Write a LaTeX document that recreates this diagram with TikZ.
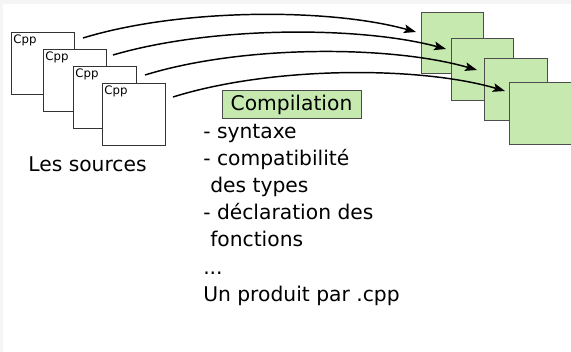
\documentclass[tikz,border=0pt]{standalone}
\usepackage{fontspec}
\setmainfont{DejaVu Sans}
\usetikzlibrary{arrows.meta,calc}
\definecolor{boxgreen}{HTML}{C6E9AF}
\definecolor{edgegray}{HTML}{4D4D4D}
\definecolor{margingray}{HTML}{F5F5F5}
\begin{document}
\begin{tikzpicture}[x=0.75pt,y=-0.75pt,
  srcbox/.style={draw=black!80, line width=0.75pt, fill=white, anchor=north west,
    minimum width=47.25pt, minimum height=46.5pt, inner sep=0pt,
    label={[font=\fontsize{8.8}{10}\selectfont, anchor=north west, inner sep=1.6pt]north west:Cpp}},
  objbox/.style={draw=edgegray, line width=0.75pt, fill=boxgreen, anchor=north west,
    minimum width=46.5pt, minimum height=46.5pt, inner sep=0pt},
  txt/.style={font=\fontsize{15.2}{19.5}\selectfont, inner sep=0pt, anchor=base west},
  flow/.style={line width=1.1pt, -{Stealth[length=9pt,width=6.5pt,inset=1.8pt]}}]
\useasboundingbox (0,0) rectangle (571,352);
\fill[white] (0,0) rectangle (571,352);
\fill[margingray] (0,0) rectangle (571,4);
\fill[margingray] (0,0) rectangle (3,352);
% source pages
\node[srcbox] (c1) at (11,32) {};
\node[srcbox] (c2) at (43,49) {};
\node[srcbox] (c3) at (73,66) {};
\node[srcbox] (c4) at (102,83) {};
% object files
\node[objbox, minimum height=45.75pt] (g1) at (421,12) {};
\node[objbox] (g2) at (451,38) {};
\node[objbox, minimum width=47.25pt] (g3) at (484,58) {};
\node[objbox, minimum width=47.25pt] (g4) at (509,82) {};
% arrows
\coordinate (s1) at ($(c1.north east)+(8,6)$);
\coordinate (s2) at ($(c2.north east)+(6,6)$);
\coordinate (s3) at ($(c3.north east)+(8,9)$);
\coordinate (s4) at ($(c4.north east)+(7,14)$);
\coordinate (e1) at ($(g1.north west)+(-5,20)$);
\coordinate (e2) at ($(g2.north west)+(-5,11)$);
\coordinate (e3) at ($(g3.north west)+(-7,12)$);
\coordinate (e4) at ($(g4.north west)+(-4,9)$);
\draw[flow] (s1) .. controls +(98,-30) and +(-86,-24) .. (e1);
\draw[flow] (s2) .. controls +(99,-29) and +(-86,-23) .. (e2);
\draw[flow] (s3) .. controls +(97,-30) and +(-87,-25) .. (e3);
\draw[flow] (s4) .. controls +(99,-31) and +(-85,-25) .. (e4);
% labels
\node[draw=edgegray, line width=0.75pt, fill=boxgreen, minimum width=104.25pt,
  minimum height=21pt, inner sep=0pt, font=\fontsize{15.2}{19.5}\selectfont]
  (comp) at (291.5,105) {Compilation};
\node[font=\fontsize{15.2}{19.5}\selectfont, inner sep=0pt, anchor=base] (src) at (87.5,172) {Les sources};
\node[txt] (l1) at (203,139) {- syntaxe};
\node[txt] (l2) at (203,166) {- compatibilité};
\node[txt] (l3) at (210,193) {des types};
\node[txt] (l4) at (203,220) {- déclaration des};
\node[txt] (l5) at (210,247) {fonctions};
\node[txt] (l6) at (203,275) {...};
\node[txt] (l7) at (203,302) {Un produit par .cpp};
\end{tikzpicture}
\end{document}
